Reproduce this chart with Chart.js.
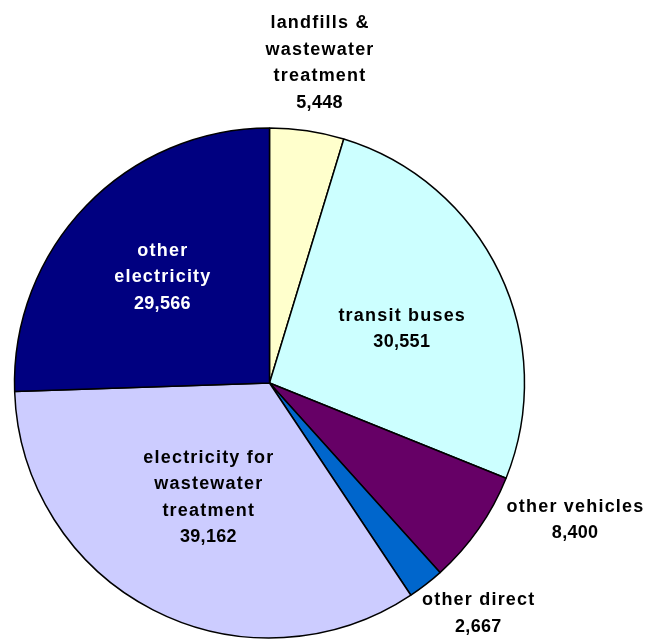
<!DOCTYPE html>
<html>
<head>
<meta charset="utf-8">
<script src="https://cdn.jsdelivr.net/npm/chart.js@4/dist/chart.umd.min.js"></script>
<style>
  html, body { margin: 0; padding: 0; background: #ffffff; }
  #wrap { width: 646px; height: 639px; position: relative; }
</style>
</head>
<body>
<div id="wrap"><canvas id="pie" width="646" height="639"></canvas></div>
<script>
// Emission sources (tons CO2e), drawn clockwise from 12 o'clock
const categories = [
  ['landfills &', 'wastewater', 'treatment'],
  ['transit buses'],
  ['other vehicles'],
  ['other direct'],
  ['electricity for', 'wastewater', 'treatment'],
  ['other', 'electricity']
];
const emissions = [5448, 30551, 8400, 2667, 39162, 29566];
const sliceColors = ['#FFFFCC', '#CCFFFF', '#660066', '#0066CC', '#CCCCFF', '#000080'];
const labelColors = ['#000000', '#000000', '#000000', '#000000', '#000000', '#FFFFFF'];

// Where each label sits relative to its slice: angle nudge (degrees, clockwise)
// and distance as a fraction of the pie radius
const labelPlacement = [
  { nudge: 0.4,   dist: 1.27 },
  { nudge: 3.3,   dist: 0.56 },
  { nudge: -10.8, dist: 1.313 },
  { nudge: -4.3,  dist: 1.22 },
  { nudge: 0.9,   dist: 0.51 },
  { nudge: 0.5,   dist: 0.59 }
];

const fmt = v => v.toLocaleString('en-US');

const sliceLabels = {
  id: 'sliceLabels',
  afterDatasetsDraw(chart) {
    const ctx = chart.ctx;
    const meta = chart.getDatasetMeta(0);
    const lineH = 26.5;
    ctx.save();
    ctx.font = 'bold 18px "Liberation Sans", Arial, sans-serif';
    ctx.textAlign = 'center';
    ctx.textBaseline = 'middle';
    meta.data.forEach((arc, i) => {
      const p = arc.getProps(['x', 'y', 'startAngle', 'endAngle', 'outerRadius'], true);
      const place = labelPlacement[i];
      const mid = (p.startAngle + p.endAngle) / 2 + place.nudge * Math.PI / 180;
      const cx = p.x + Math.cos(mid) * p.outerRadius * place.dist;
      const cy = p.y + Math.sin(mid) * p.outerRadius * place.dist;
      const lines = categories[i].concat([fmt(emissions[i])]);
      const top = cy - (lines.length - 1) * lineH / 2;
      ctx.fillStyle = labelColors[i];
      lines.forEach((txt, k) => {
        const isNum = k === lines.length - 1;
        const sp = isNum ? 0.3 : 1.2;
        ctx.letterSpacing = sp + 'px';
        ctx.fillText(txt, cx + sp / 2, top + k * lineH);
      });
    });
    ctx.restore();
  }
};

new Chart(document.getElementById('pie'), {
  type: 'pie',
  data: {
    labels: categories,
    datasets: [{
      data: emissions,
      backgroundColor: sliceColors,
      borderColor: '#000000',
      borderWidth: 1.5,
      hoverOffset: 0
    }]
  },
  options: {
    responsive: false,
    animation: false,
    radius: 255,
    layout: { padding: { left: 0, right: 107, top: 127, bottom: 0 } },
    plugins: {
      legend: { display: false },
      tooltip: { enabled: false }
    }
  },
  plugins: [sliceLabels]
});
</script>
</body>
</html>
